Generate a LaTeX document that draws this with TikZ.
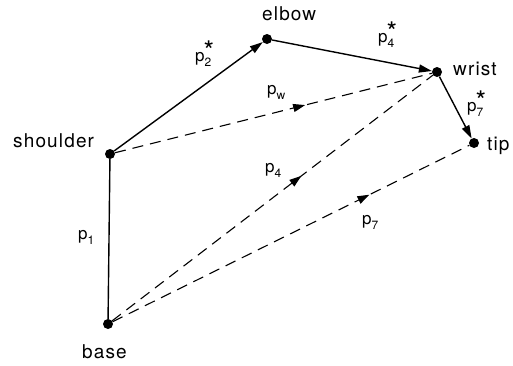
\documentclass[tikz,border=0pt]{standalone}
\usepackage{fontspec}
\setmainfont[LetterSpace=6]{TeX Gyre Heros}
\usetikzlibrary{arrows.meta,decorations.markings}
\newcommand{\psub}[1]{p\raisebox{-0.32em}{\fontsize{12}{12}\selectfont #1}}
\newcommand{\pstar}[1]{p\rlap{\raisebox{-0.32em}{\fontsize{12}{12}\selectfont #1}}\kern-1pt\raisebox{0.05em}{\fontsize{27}{27}\selectfont *}}
\begin{document}
\begin{tikzpicture}[x=1pt,y=-1pt,
  joint/.style={circle,fill=black,inner sep=0pt,minimum size=10pt},
  lbl/.style={anchor=base west,inner sep=0pt,font=\fontsize{19}{22}\selectfont},
  plbl/.style={anchor=base west,inner sep=0pt,font=\fontsize{17}{20}\selectfont},
  link/.style={line width=1.4pt,-{Triangle[length=13pt,width=8pt]}},
  vec/.style={line width=1.1pt,dash pattern=on 11pt off 7pt,
    postaction={decorate},
    decoration={markings,mark=at position #1 with {\arrow{Triangle[length=12pt,width=8pt]}}}}
  ]
\clip (0,0) rectangle (513,365);
\fill[white] (0,0) rectangle (513,365);
\node[joint] (base) at (108,324) {};
\node[joint] (shoulder) at (110,154) {};
\node[joint] (elbow) at (267,39) {};
\node[joint] (wrist) at (437,72) {};
\node[joint] (tip) at (474,143) {};

\node[lbl] (tbase) at (82,358) {base};
\node[lbl] (tshoulder) at (13,147) {shoulder};
\node[lbl] (telbow) at (262,20) {elbow};
\node[lbl] (twrist) at (453,75) {wrist};
\node[lbl] (ttip) at (487,150) {tip};

\draw[line width=1.4pt] (base) -- (shoulder);
\draw[link] (shoulder) -- (elbow);
\draw[link] (elbow) -- (wrist);
\draw[link] (wrist) -- (tip);
\draw[vec=0.6] (shoulder) -- (wrist);
\draw[vec=0.59] (base) -- (wrist);
\draw[vec=0.72] (base) -- (tip);

\node[plbl] (l1) at (78,239) {\psub{1}};
\node[plbl] (l2) at (195,61) {\pstar{2}};
\node[plbl] (l4s) at (378,42) {\pstar{4}};
\node[plbl] (l7s) at (467,111) {\pstar{7}};
\node[plbl] (lw) at (267,94) {\psub{w}};
\node[plbl] (l4) at (265,172) {\psub{4}};
\node[plbl] (l7) at (362,224) {\psub{7}};
\end{tikzpicture}
\end{document}
